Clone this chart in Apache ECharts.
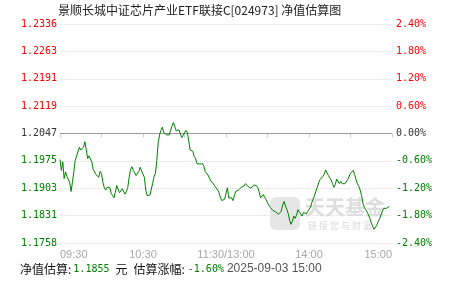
<!DOCTYPE html>
<html>
<head>
<meta charset="utf-8">
<script src="https://cdn.jsdelivr.net/npm/echarts@6/dist/echarts.min.js"></script>
<style>
html,body{margin:0;padding:0;background:#fff;}
#c{width:451px;height:281px;}
</style>
</head>
<body>
<div id="c"></div>
<script>
const titleText = '景顺长城中证芯片产业ETF联接C[024973] 净值估算图';
const xTickLabels = ['09:30', '', '10:30', '', '11:30/13:00', '', '14:00', '', '15:00'];
const navLabels = ['1.1758', '1.1831', '1.1903', '1.1975', '1.2047', '1.2119', '1.2191', '1.2263', '1.2336'];
const pctLabels = ['-2.40%', '-1.80%', '-1.20%', '-0.60%', '0.00%', '0.60%', '1.20%', '1.80%', '2.40%'];
const navEstimate = '1.1855';
const estChange = '-1.60%';
const stamp = '2025-09-03 15:00';
// estimated change (%) for each trading minute from 09:30
const values = [
-0.57,-0.81,-0.62,-0.99,-0.84,-0.94,-0.98,-1.07,-1.27,-1.07,
-0.84,-0.59,-0.49,-0.40,-0.30,-0.36,-0.33,-0.30,-0.18,-0.36,
-0.55,-0.49,-0.56,-0.62,-0.79,-0.81,-0.90,-0.93,-0.96,-0.83,
-0.88,-1.07,-1.19,-1.24,-1.18,-1.20,-1.18,-1.31,-1.36,-1.41,
-1.29,-1.14,-1.14,-1.30,-1.27,-1.21,-1.21,-1.33,-1.27,-1.18,
-0.96,-0.79,-0.73,-0.81,-0.85,-0.92,-0.88,-0.83,-0.74,-0.82,
-0.84,-0.96,-1.24,-1.36,-1.36,-1.35,-1.31,-1.09,-0.94,-0.87,
-0.59,-0.20,-0.03,0.07,0.14,0.02,-0.01,-0.03,-0.01,-0.03,
0.07,0.17,0.24,0.23,0.06,0.10,0.08,0.07,-0.09,-0.04,
0.01,0.07,0.02,-0.14,-0.36,-0.34,-0.39,-0.50,-0.55,-0.66,
-0.70,-0.67,-0.70,-0.66,-0.72,-0.84,-0.87,-0.91,-0.94,-1.04,
-1.08,-1.11,-1.16,-1.19,-1.24,-1.30,-1.41,-1.47,-1.46,-1.44,
-1.42,-1.19,-1.41,-1.38,-1.41,-1.47,-1.44,-1.27,-1.26,-1.24,
-1.21,-1.18,-1.17,-1.15,-1.10,-1.09,-1.16,-1.15,-1.20,-1.18,
-1.13,-1.12,-1.14,-1.19,-1.28,-1.41,-1.40,-1.34,-1.40,-1.45,
-1.52,-1.57,-1.62,-1.64,-1.69,-1.70,-1.72,-1.76,-1.77,-1.79,
-1.70,-1.56,-1.49,-1.59,-1.66,-1.76,-1.90,-1.99,-1.92,-1.81,
-1.86,-1.79,-1.67,-1.70,-1.76,-1.81,-1.73,-1.70,-1.76,-1.71,
-1.73,-1.62,-1.52,-1.44,-1.36,-1.26,-1.18,-1.08,-1.01,-1.05,
-0.94,-0.89,-0.80,-0.78,-0.92,-0.94,-1.02,-1.10,-1.18,-1.12,
-1.00,-0.96,-1.10,-1.05,-1.10,-1.13,-1.10,-1.07,-1.01,-1.00,
-0.87,-0.85,-0.81,-0.90,-1.01,-1.10,-1.16,-1.24,-1.36,-1.53,
-1.62,-1.67,-1.72,-1.78,-1.86,-1.95,-2.03,-2.10,-2.07,-2.01,
-1.93,-1.87,-1.79,-1.71,-1.64,-1.65,-1.64,-1.62,-1.60
];

const RED = '#ff0000', GREEN = '#008000', DARK = '#333333';
const idx = v => Math.round((Number(v) + 2.4) / 0.6);
const labelColor = v => { const i = idx(v); return i < 4 ? GREEN : (i > 4 ? RED : DARK); };
const mono = '"DejaVu Sans Mono", "Liberation Mono", monospace';

const chart = echarts.init(document.getElementById('c'), null, {renderer: 'canvas'});
chart.setOption({
  animation: false,
  backgroundColor: '#fff',
  grid: {left: 60, right: 59, top: 24, bottom: 38, containLabel: false},
  xAxis: {
    type: 'value', min: 0, max: 240, interval: 30,
    axisLine: {show: true, lineStyle: {color: '#c2d2e2', width: 1}},
    axisTick: {show: true, length: 4, lineStyle: {color: '#c2d2e2'}},
    splitLine: {show: false},
    axisLabel: {
      color: '#a8a8a8', fontSize: 11, fontFamily: '"Liberation Sans", Arial, sans-serif', margin: 6,
      alignMinLabel: 'left', alignMaxLabel: 'right',
      formatter: v => xTickLabels[Math.round(v / 30)] || ''
    }
  },
  yAxis: [
    {
      type: 'value', min: -2.4, max: 2.4, interval: 0.6, position: 'left',
      axisLine: {show: false}, axisTick: {show: false},
      splitLine: {show: true, lineStyle: {color: '#dcdcdc', type: [1, 1], width: 1}},
      axisLabel: {
        margin: 3, fontSize: 10, fontFamily: mono,
        formatter: v => navLabels[idx(v)],
        color: v => labelColor(v)
      }
    },
    {
      type: 'value', min: -2.4, max: 2.4, interval: 0.6, position: 'right',
      axisLine: {show: false}, axisTick: {show: false}, splitLine: {show: false},
      axisLabel: {
        margin: 4, fontSize: 10, fontFamily: mono,
        formatter: v => pctLabels[idx(v)],
        color: v => labelColor(v)
      }
    }
  ],
  graphic: [
    {type: 'text', left: 58, top: 4, z: 10,
     style: {text: titleText, fill: '#222', font: '12px "Noto Sans CJK SC", sans-serif'}},
    {type: 'rect', shape: {x: 270, y: 197, width: 30, height: 33, r: 6}, z: 0, silent: true,
     style: {fill: '#d6d6d6', opacity: 0.6}},
    {type: 'text', left: 305, top: 197, z: 0, silent: true,
     style: {text: '天天基金', fill: '#d0d0d0', opacity: 0.7, font: 'bold 20px "Noto Sans CJK SC", serif'}},
    {type: 'text', left: 308, top: 221, z: 0, silent: true,
     style: {text: '链 接 您 与 财 富', fill: '#d0d0d0', opacity: 0.8, font: '9px "Noto Sans CJK SC", sans-serif'}},
    {type: 'text', left: 20, top: 263, z: 10,
     style: {
       text: '{a|净值估算:}{g|' + navEstimate + '}{u|元}{b|估算涨幅:}{h|' + estChange + '}{d|' + stamp + '}',
       rich: {
         a: {fill: '#111', font: '12px "Noto Sans CJK SC", sans-serif'},
         g: {fill: GREEN, font: '10px ' + mono, padding: [0, 0, 0, 2]},
         u: {fill: '#111', font: '12px "Noto Sans CJK SC", sans-serif', padding: [0, 0, 0, 6]},
         b: {fill: '#111', font: '12px "Noto Sans CJK SC", sans-serif', padding: [0, 0, 0, 6]},
         h: {fill: GREEN, font: '10px ' + mono, padding: [0, 0, 0, 3]},
         d: {fill: '#555', font: '12px "Liberation Sans", Arial, sans-serif', padding: [0, 0, 0, 3]}
       }
     }}
  ],
  series: [{
    type: 'line',
    yAxisIndex: 0,
    data: values.map((v, i) => [i, v]),
    showSymbol: false,
    symbol: 'none',
    lineStyle: {color: GREEN, width: 1},
    z: 5,
    markLine: {
      silent: true, symbol: 'none', label: {show: false},
      lineStyle: {color: '#999', type: 'solid', width: 1},
      data: [{yAxis: 0}],
      z: 3
    }
  }]
});
</script>
</body>
</html>
